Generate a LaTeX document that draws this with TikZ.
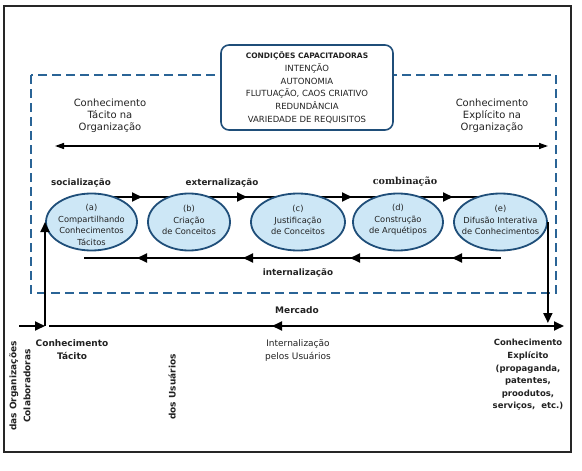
\documentclass[tikz,border=0pt]{standalone}
\usepackage{fontspec}
\setmainfont{DejaVu Sans}
\newfontfamily\slabfont{DejaVu Serif}
\usetikzlibrary{arrows.meta,shapes.geometric,backgrounds}
\definecolor{dashblue}{HTML}{2A6496}
\definecolor{elfill}{HTML}{CDE7F6}
\definecolor{eldraw}{HTML}{1F4E79}
\definecolor{txt}{HTML}{222222}
\begin{document}
\begin{tikzpicture}[x=1pt,y=-1pt,
  frame/.style={line width=1.3pt,draw=black!85},
  dashbox/.style={draw=dashblue,line width=1.8pt,dash pattern=on 9pt off 5pt},
  condbox/.style={draw=eldraw,line width=1.6pt,rounded corners=8pt,fill=white,
    minimum width=172pt,minimum height=85pt,align=center,text=txt,inner sep=0pt,
    font=\fontsize{8.5}{12.7}\selectfont},
  stage/.style={ellipse,draw=eldraw,line width=1.8pt,fill=elfill,inner sep=0pt,minimum height=57pt},
  lbl/.style={align=center,text=txt,inner sep=0pt},
  stxt/.style={lbl,font=\fontsize{8.3}{11.4}\selectfont},
  boldlbl/.style={lbl,font=\bfseries\fontsize{8.8}{11}\selectfont},
  flow/.style={line width=1.8pt,draw=black},
  tip/.style={-{Triangle[length=10pt,width=9pt]}},
  dbl/.style={line width=1.4pt,{Triangle[length=9pt,width=6pt]}-{Triangle[length=9pt,width=6pt]}}
]
\useasboundingbox (0,0) rectangle (582,471);
\draw[frame] (4,6) rectangle (571,452);
\draw[dashbox] (31,75) rectangle (556,293);

\node[condbox] (cond) at (307,87.5) {%
  \textbf{\fontsize{7.5}{12.7}\selectfont CONDIÇÕES CAPACITADORAS}\\
  INTENÇÃO\\ AUTONOMIA\\ FLUTUAÇÃO, CAOS CRIATIVO\\ REDUNDÂNCIA\\ VARIEDADE DE REQUISITOS};

\node[lbl,font=\fontsize{10}{11.8}\selectfont] (ctac) at (110,116) {Conhecimento\\Tácito na\\Organização};
\node[lbl,font=\fontsize{10}{11.8}\selectfont] (cexp) at (492,116) {Conhecimento\\Explícito na\\Organização};
\coordinate (dl) at (55,146);
\coordinate (dr) at (548,146);
\draw[dbl] (dl) -- (dr);

% stages
\node[stage,minimum width=91pt] (a) at (91.5,222) {};
\node[stage,minimum width=82pt] (b) at (189,222) {};
\node[stage,minimum width=94pt] (c) at (298,222) {};
\node[stage,minimum width=90pt] (d) at (398,222) {};
\node[stage,minimum width=93pt] (e) at (500.5,222) {};
\node[stxt] (ta) at (91.5,225) {(a)\\Compartilhando\\Conhecimentos\\Tácitos};
\node[stxt] (tb) at (189,220) {(b)\\Criação\\de Conceitos};
\node[stxt] (tc) at (298,220) {(c)\\Justificação\\de Conceitos};
\node[stxt] (td) at (398,220) {(d)\\Construção\\de Arquétipos};
\node[stxt] (te) at (500.5,220) {(e)\\Difusão Interativa\\de Conhecimentos};

\coordinate (T) at (0,197);
\coordinate (B) at (0,258);
\begin{scope}[on background layer]
  \draw[flow] (a |- T) -- (e |- T);
\end{scope}
\coordinate (tt1) at (142,197);
\coordinate (tt2) at (247,197);
\coordinate (tt3) at (352,197);
\coordinate (tt4) at (453,197);
\foreach \p in {tt1,tt2,tt3,tt4} \draw[flow,tip] ([xshift=-3pt]\p) -- (\p);

\coordinate (bs) at (84,258);
\draw[flow] (e |- B) -- (bs);
\coordinate (bt1) at (137,258);
\coordinate (bt2) at (243,258);
\coordinate (bt3) at (350,258);
\coordinate (bt4) at (452,258);
\foreach \p in {bt1,bt2,bt3,bt4} \draw[flow,tip] ([xshift=3pt]\p) -- (\p);

\node[boldlbl] (soc) at (81,183) {socialização};
\node[boldlbl] (ext) at (222,183) {externalização};
\node[lbl,font=\slabfont\bfseries\fontsize{9.6}{11}\selectfont] (comb) at (405,182) {combinação};
\node[boldlbl] (int) at (298,273) {internalização};

% market line
\coordinate (rb) at (546,323);
\draw[flow,tip] (e.east) -- (e.east |- rb);
\coordinate (bl) at (49,326);
\coordinate (br) at (564,326);
\draw[flow,tip] (bl) -- (br);
\coordinate (mk) at (272,326);
\draw[flow,tip] ([xshift=3pt]mk) -- (mk);
\coordinate (in0) at (19,326);
\coordinate (cl) at (45,326);
\draw[flow,tip] (in0) -- (cl);
\draw[flow,tip] (cl) -- (cl |- a.west);

\node[lbl,font=\bfseries\fontsize{9}{11}\selectfont] (merc) at (297,310) {Mercado};
\node[lbl,font=\fontsize{9}{13}\selectfont] (ipu) at (298,350) {Internalização\\pelos Usuários};
\node[lbl,font=\bfseries\fontsize{9}{13}\selectfont] (ctl) at (72,350) {Conhecimento\\Tácito};
\node[lbl,font=\bfseries\fontsize{8.5}{12.6}\selectfont] (cel) at (528,375) {Conhecimento\\Explícito\\(propaganda,\\patentes,\\proodutos,\\serviços,\ \ etc.)};
\node[lbl,rotate=90,font=\bfseries\fontsize{9}{14}\selectfont] (dor) at (20,386) {das Organizações\\Colaboradoras};
\node[lbl,rotate=90,font=\bfseries\fontsize{9}{14}\selectfont] (dus) at (172,387) {dos Usuários};
\end{tikzpicture}
\end{document}
